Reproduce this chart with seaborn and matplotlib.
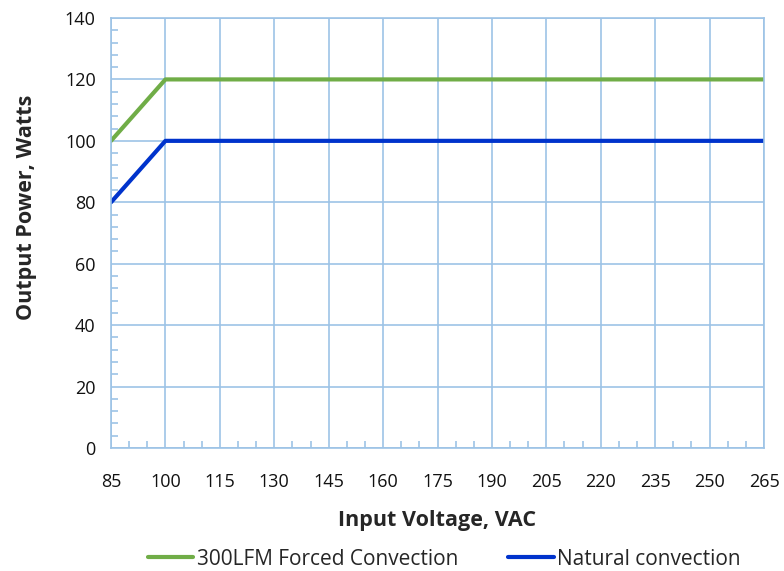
import matplotlib
matplotlib.use("Agg")
import matplotlib.pyplot as plt
import pandas as pd
import seaborn as sns

# Data
voltage = [85, 100, 265]
forced_power = [100, 120, 120]
natural_power = [80, 100, 100]
x_ticks = list(range(85, 266, 15))
y_ticks = list(range(0, 141, 20))

df = pd.concat([
    pd.DataFrame({"voltage": voltage, "power": forced_power, "series": "300LFM Forced Convection"}),
    pd.DataFrame({"voltage": voltage, "power": natural_power, "series": "Natural convection"}),
])

sns.set_style("white")
plt.rcParams['font.family'] = ['Open Sans', 'DejaVu Sans']

grid_col = "#9dc3e6"
fig, ax = plt.subplots(figsize=(7.84, 5.71), dpi=100)
fig.subplots_adjust(left=0.1416, right=0.9745, top=0.9685, bottom=0.2154)

sns.lineplot(data=df, x="voltage", y="power", hue="series",
             palette=["#70ad47", "#0033cc"], linewidth=3, ax=ax)

ax.set_xlim(85, 265)
ax.set_ylim(0, 140)
ax.set_xticks(x_ticks)
ax.set_yticks(y_ticks)
ax.set_xticks([v for v in range(85, 266, 5) if v not in x_ticks], minor=True)
ax.set_yticks([v for v in range(0, 141, 4) if v not in y_ticks], minor=True)
ax.grid(True, which="major", color=grid_col, linewidth=1.2)
ax.set_axisbelow(True)
for s in ax.spines.values():
    s.set_color(grid_col)
    s.set_linewidth(1.2)
ax.tick_params(which="major", length=0, labelsize=13, labelcolor="#111111")
ax.tick_params(axis="x", which="major", pad=18)
ax.tick_params(axis="y", which="major", pad=11)
ax.tick_params(which="minor", direction="in", length=5, color=grid_col, width=1.2,
               bottom=True, left=True)

ax.set_xlabel("Input Voltage, VAC", fontsize=15.5, fontweight="bold", labelpad=14)
ax.set_ylabel("Output Power, Watts", fontsize=15.5, fontweight="bold", labelpad=20, y=0.56)

ax.legend(loc="upper center", bbox_to_anchor=(0.51, -0.205), ncol=2, frameon=False,
          fontsize=15, handlelength=2.2, handletextpad=0.15, columnspacing=2.4,
          borderpad=0.1)

fig.savefig("out.png", dpi=100)
